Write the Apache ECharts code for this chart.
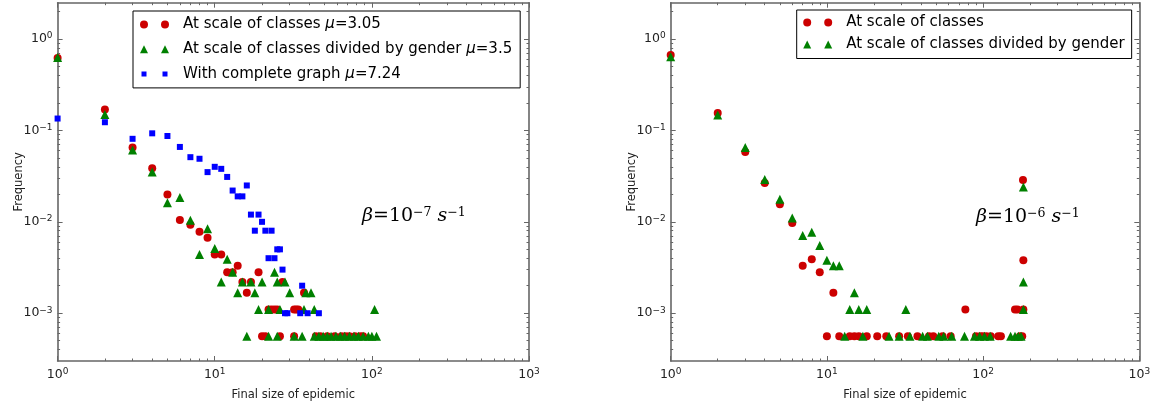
<!DOCTYPE html>
<html>
<head>
<meta charset="utf-8">
<script src="https://cdn.jsdelivr.net/npm/echarts@6/dist/echarts.min.js"></script>
<style>
  html, body { margin: 0; padding: 0; background: #fff; }
  #chart { width: 1154px; height: 406px; }
</style>
</head>
<body>
<div id="chart"></div>
<script>
// Distribution of final epidemic sizes, two transmission rates (log-log).

// ---- series names ----
const NAME_L_CLASSES = 'At scale of classes μ=3.05';
const NAME_L_GENDER = 'At scale of classes divided by gender μ=3.5';
const NAME_L_COMPLETE = 'With complete graph μ=7.24';
const NAME_R_CLASSES = 'At scale of classes';
const NAME_R_GENDER = 'At scale of classes divided by gender';

// ---- beta = 1e-7 s^-1 : [final size, frequency] ----
const leftClasses = [
  [1, 0.62], [2, 0.17], [3, 0.065], [4, 0.0386], [5, 0.0199], [6, 0.0105],
  [7, 0.0093], [8, 0.0078], [9, 0.0067], [10, 0.0044], [11, 0.0044],
  [12, 0.0028], [13, 0.0028], [14, 0.0033], [15, 0.0022], [16, 0.00167],
  [17, 0.0022], [19, 0.0028], [20, 0.00056], [21, 0.00056], [22, 0.0011],
  [23, 0.0011], [24, 0.0011], [25, 0.0011], [26, 0.00056], [27, 0.0022],
  [32, 0.0011], [33, 0.0011], [34, 0.0011], [32, 0.00056], [37, 0.00167],
  [44, 0.00056], [47, 0.00056], [52, 0.00056], [58, 0.00056], [64, 0.00056],
  [68, 0.00056], [72, 0.00056], [78, 0.00056], [84, 0.00056], [88, 0.00056]
];
const leftGender = [
  [1, 0.63], [2, 0.149], [3, 0.061], [4, 0.035], [5, 0.0162], [6, 0.0185],
  [7, 0.0104], [8, 0.0044], [9, 0.0084], [10, 0.0051], [11, 0.0022],
  [12, 0.0039], [13, 0.0028], [14, 0.00167], [15, 0.0022], [16, 0.00056],
  [17, 0.0022], [18, 0.00167], [19, 0.0011], [20, 0.0022], [22, 0.0011],
  [22, 0.00056], [24, 0.0028], [25, 0.0022], [25, 0.00056], [26, 0.0011],
  [28, 0.0022], [30, 0.00167], [32, 0.00056], [36, 0.00056], [37, 0.0011],
  [38, 0.00167], [41, 0.00167], [43, 0.0011], [43, 0.00056], [46, 0.00056],
  [49, 0.00056], [52, 0.00056], [55, 0.00056], [59, 0.00056], [63, 0.00056],
  [67, 0.00056], [72, 0.00056], [77, 0.00056], [82, 0.00056], [88, 0.00056],
  [95, 0.00056], [100, 0.00056], [104, 0.0011], [107, 0.00056]
];
const leftComplete = [
  [1, 0.135], [2, 0.123], [3, 0.081], [4, 0.093], [5, 0.087], [6, 0.066],
  [7, 0.051], [8, 0.049], [9, 0.035], [10, 0.040], [11, 0.038], [12, 0.031],
  [13, 0.022], [14, 0.019], [15, 0.019], [16, 0.025], [17, 0.012], [18, 0.008],
  [19, 0.012], [20, 0.010], [21, 0.008], [22, 0.004], [23, 0.008], [24, 0.004],
  [25, 0.005], [26, 0.005], [27, 0.003], [28, 0.001], [29, 0.001], [35, 0.001],
  [36, 0.002], [39, 0.001], [46, 0.001]
];

// ---- beta = 1e-6 s^-1 ----
const rightClasses = [
  [1, 0.67], [2, 0.155], [3, 0.058], [4, 0.0266], [5, 0.0156], [6, 0.0097],
  [7, 0.0033], [8, 0.0039], [9, 0.0028], [10, 0.00056], [11, 0.00167],
  [12, 0.00056], [14, 0.00056], [15, 0.00056], [16, 0.00056], [18, 0.00056],
  [21, 0.00056], [24, 0.00056], [29, 0.00056], [33, 0.00056], [38, 0.00056],
  [45, 0.00056], [48, 0.00056], [55, 0.00056], [62, 0.00056], [77, 0.0011],
  [90, 0.00056], [96, 0.00056], [100, 0.00056], [105, 0.00056], [112, 0.00056],
  [125, 0.00056], [130, 0.00056], [160, 0.0011], [166, 0.0011], [172, 0.00056],
  [178, 0.00056], [180, 0.0287], [181, 0.0038], [181, 0.0011]
];
const rightGender = [
  [1, 0.64], [2, 0.148], [3, 0.065], [4, 0.029], [5, 0.0177], [6, 0.011],
  [7, 0.0071], [8, 0.0077], [9, 0.0055], [10, 0.0038], [11, 0.0033],
  [12, 0.0033], [13, 0.00056], [14, 0.0011], [15, 0.00167], [16, 0.0011],
  [17, 0.00056], [18, 0.0011], [25, 0.00056], [29, 0.00056], [32, 0.0011],
  [34, 0.00056], [41, 0.00056], [44, 0.00056], [52, 0.00056], [56, 0.00056],
  [63, 0.00056], [76, 0.00056], [88, 0.00056], [95, 0.00056], [102, 0.00056],
  [111, 0.00056], [150, 0.00056], [160, 0.00056], [168, 0.00056],
  [175, 0.00056], [181, 0.024], [181, 0.0022], [181, 0.0011]
];

// ---- axis ranges and ticks ----
const X_MIN = 1, X_MAX = 1000;
const Y_MIN = 0.0003, Y_MAX = 2.5;
const xDecades = [0, 1, 2, 3];
const yDecades = [-3, -2, -1, 0];
const minorMultipliers = [2, 3, 4, 5, 6, 7, 8, 9];

const FONT = 'DejaVu Sans';
const FRAME = '#666';
const RED = '#cc0000', GREEN = '#008000', BLUE = '#0000ff';

const lx0 = Math.log10(X_MIN), lx1 = Math.log10(X_MAX);
const ly0 = Math.log10(Y_MIN), ly1 = Math.log10(Y_MAX);

function minorTicks(lo, hi) {
  const out = [];
  for (let d = Math.floor(lo); d <= Math.ceil(hi); d++) {
    minorMultipliers.forEach(k => {
      const v = d + Math.log10(k);
      if (v > lo && v < hi) out.push(v);
    });
  }
  return out;
}

const tickLabelRich = {
  b: { fontFamily: FONT, fontSize: 12.5, color: '#222' },
  e: { fontFamily: FONT, fontSize: 9, color: '#222', verticalAlign: 'top', padding: [0, 0, 6, 0] }
};
const powerLabel = v => '{b|10}{e|' + String(Math.round(v)).replace('-', '−') + '}';

// frame + tick axes, drawn in log10 units on top of the log data axes
function decoAxis(dim, gridIndex, position, major, withLabels) {
  const lo = dim === 'x' ? lx0 : ly0;
  const hi = dim === 'x' ? lx1 : ly1;
  const ax = {
    type: 'value', gridIndex, position, min: lo, max: hi,
    axisLine: { show: major, onZero: false, lineStyle: { color: FRAME, width: 1.6 } },
    axisTick: {
      show: true, inside: true, length: major ? 5 : 2.5,
      customValues: major ? (dim === 'x' ? xDecades : yDecades) : minorTicks(lo, hi),
      lineStyle: { color: FRAME, width: 1 }
    },
    axisLabel: { show: false },
    splitLine: { show: false }
  };
  if (withLabels) {
    ax.axisLabel = {
      show: true, customValues: dim === 'x' ? xDecades : yDecades,
      formatter: powerLabel, rich: tickLabelRich, margin: dim === 'x' ? 6 : 5
    };
    ax.nameLocation = 'middle';
    ax.nameMoveOverlap = false;
    ax.nameTextStyle = { fontFamily: FONT, fontSize: 11.5, color: '#222' };
    if (dim === 'x') { ax.name = 'Final size of epidemic'; ax.nameGap = 28; }
    else { ax.name = 'Frequency'; ax.nameGap = 33; }
  }
  return ax;
}

function axesFor(dim, gridIndex) {
  const dataAxis = dim === 'x'
    ? { type: 'log', logBase: 10, gridIndex, min: X_MIN, max: X_MAX, show: false }
    : { type: 'log', logBase: 10, gridIndex, min: Y_MIN, max: Y_MAX, show: false };
  const near = dim === 'x' ? 'bottom' : 'left';
  const far = dim === 'x' ? 'top' : 'right';
  return [
    dataAxis,
    decoAxis(dim, gridIndex, near, true, true),
    decoAxis(dim, gridIndex, near, false, false),
    decoAxis(dim, gridIndex, far, true, false),
    decoAxis(dim, gridIndex, far, false, false)
  ];
}

// two-marker legend keys
const ICON_CIRCLES = 'path://M0,0M38,8M0,4A4,4 0 1,1 8,4A4,4 0 1,1 0,4ZM21,4A4,4 0 1,1 29,4A4,4 0 1,1 21,4Z';
const ICON_TRIANGLES = 'path://M0,0M38,8M4,0L8,8L0,8ZM25,0L29,8L21,8Z';
const ICON_SQUARES = 'path://M0,0M38,8M1.5,1.5L6.5,1.5L6.5,6.5L1.5,6.5ZM22.5,1.5L27.5,1.5L27.5,6.5L22.5,6.5Z';

const legendText = {
  fontFamily: FONT, fontSize: 15, color: '#000', lineHeight: 18,
  rich: { i: { fontFamily: FONT, fontStyle: 'italic', fontSize: 15, color: '#000' } }
};
const legendBase = {
  orient: 'vertical', selectedMode: false, backgroundColor: '#fff',
  borderColor: '#000', borderWidth: 1, borderRadius: 0,
  itemWidth: 38, itemHeight: 8, textStyle: legendText,
  formatter: n => n.replace('μ', '{i|μ}')
};

const betaRich = {
  g: { fontFamily: 'DejaVu Serif', fontStyle: 'italic', fontSize: 19, color: '#333' },
  n: { fontFamily: 'DejaVu Serif', fontSize: 19, color: '#333' },
  s: { fontFamily: 'DejaVu Serif', fontSize: 12.5, color: '#333', verticalAlign: 'top', padding: [0, 0, 8, 0] },
  si: { fontFamily: 'DejaVu Serif', fontStyle: 'italic', fontSize: 19, color: '#333' }
};
const betaText = exp => '{g|β}{n|=10}{s|−' + exp + '}{n| }{si|s}{s|−1}';

const markerStyle = color => ({ color, opacity: 1 });

const option = {
  animation: false,
  backgroundColor: '#fff',
  grid: [
    { left: 57.6, top: 2.7, width: 471.4, height: 362.6 },
    { left: 670.7, top: 2.7, width: 468.6, height: 362.6 }
  ],
  xAxis: axesFor('x', 0).concat(axesFor('x', 1)),
  yAxis: axesFor('y', 0).concat(axesFor('y', 1)),
  legend: [
    Object.assign({}, legendBase, {
      left: 133, top: 11, padding: [4.5, 8, 5, 7], itemGap: 6.7,
      data: [
        { name: NAME_L_CLASSES, icon: ICON_CIRCLES },
        { name: NAME_L_GENDER, icon: ICON_TRIANGLES },
        { name: NAME_L_COMPLETE, icon: ICON_SQUARES }
      ]
    }),
    Object.assign({}, legendBase, {
      left: 796.7, top: 10, padding: [3.5, 7, 5, 6.5], itemGap: 4,
      data: [
        { name: NAME_R_CLASSES, icon: ICON_CIRCLES },
        { name: NAME_R_GENDER, icon: ICON_TRIANGLES }
      ]
    })
  ],
  graphic: [
    { type: 'text', left: 362, top: 206, style: { text: betaText(7), rich: betaRich } },
    { type: 'text', left: 976, top: 207, style: { text: betaText(6), rich: betaRich } }
  ],
  series: [
    { name: NAME_L_CLASSES, type: 'scatter', xAxisIndex: 0, yAxisIndex: 0, data: leftClasses,
      symbol: 'circle', symbolSize: 8, itemStyle: markerStyle(RED) },
    { name: NAME_L_GENDER, type: 'scatter', xAxisIndex: 0, yAxisIndex: 0, data: leftGender,
      symbol: 'triangle', symbolSize: 9, itemStyle: markerStyle(GREEN) },
    { name: NAME_L_COMPLETE, type: 'scatter', xAxisIndex: 0, yAxisIndex: 0, data: leftComplete,
      symbol: 'rect', symbolSize: 6, itemStyle: markerStyle(BLUE) },
    { name: NAME_R_CLASSES, type: 'scatter', xAxisIndex: 5, yAxisIndex: 5, data: rightClasses,
      symbol: 'circle', symbolSize: 8, itemStyle: markerStyle(RED) },
    { name: NAME_R_GENDER, type: 'scatter', xAxisIndex: 5, yAxisIndex: 5, data: rightGender,
      symbol: 'triangle', symbolSize: 9, itemStyle: markerStyle(GREEN) }
  ]
};

const chart = echarts.init(document.getElementById('chart'), null, { renderer: 'canvas' });
chart.setOption(option);
</script>
</body>
</html>
